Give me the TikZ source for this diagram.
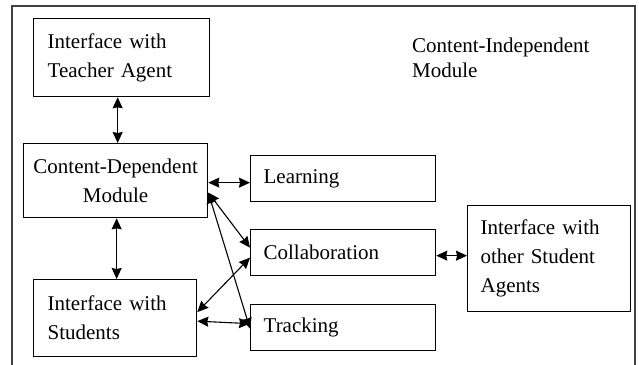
\documentclass[tikz,border=0pt]{standalone}
\usepackage{fontspec}
\setmainfont{Liberation Serif}
\usetikzlibrary{arrows.meta}
\begin{document}
\begin{tikzpicture}[x=1pt,y=-1pt,
  txt/.style={font=\fontsize{21}{29}\selectfont},
  box/.style={txt, draw, line width=1.3pt, inner sep=0pt, anchor=north west},
  conn/.style={line width=1.1pt, {Stealth[length=11pt,width=10pt,inset=1pt]}-{Stealth[length=11pt,width=10pt,inset=1pt]}},
  ]
\useasboundingbox (0,0) rectangle (639,364);
\draw[line width=1.5pt, black!75] (12,6) rectangle (635,390);
\node[box, minimum width=176pt, minimum height=78pt, inner xsep=14pt, text width=148pt, align=left] (teacher) at (33,18) {Interface with\\Teacher Agent};
\node[box, minimum width=184pt, minimum height=74pt, inner xsep=4pt, text width=176pt, align=center] (cdm) at (23,143) {Content-Dependent\\Module};
\node[box, minimum width=163pt, minimum height=77pt, inner xsep=14pt, text width=135pt, align=left] (students) at (33,279) {Interface with\\Students};
\node[box, minimum width=185pt, minimum height=46pt, inner xsep=13pt, text width=159pt, align=left] (learning) at (250,155) {Learning};
\node[box, minimum width=185pt, minimum height=46pt, inner xsep=13pt, text width=159pt, align=left] (collab) at (250,229) {Collaboration};
\node[box, minimum width=185pt, minimum height=46pt, inner xsep=13pt, text width=159pt, align=left] (tracking) at (250,304) {Tracking};
\node[box, minimum width=163pt, minimum height=106pt, inner xsep=13pt, text width=137pt, align=left] (other) at (467,205) {Interface with\\other Student\\Agents};
\node[txt, font=\fontsize{21}{25}\selectfont, anchor=west, align=left, inner sep=0pt] (cim) at (412,57.5) {Content-Independent\\Module};
\draw[conn] ([xshift=-4pt]teacher.south) -- ([xshift=2pt]cdm.north);
\draw[conn] ([xshift=1pt]cdm.south) -- ([xshift=1pt]cdm.south |- students.north);
\draw[conn] ([yshift=-2pt]cdm.east) -- ([yshift=-2pt]cdm.east -| learning.west);
\draw[conn] ([yshift=-12pt]cdm.east) -- ([yshift=5pt]collab.west);
\draw[conn] ([yshift=-12pt]cdm.east) -- ([yshift=-1pt]tracking.west);
\draw[conn] ([yshift=6pt]students.east) -- ([yshift=-5pt]collab.west);
\draw[conn] ([yshift=-3pt]students.east) -- ([yshift=4pt]tracking.west);
\draw[conn] ([yshift=-3pt]collab.east) -- ([yshift=-3pt]collab.east -| other.west);
\end{tikzpicture}
\end{document}
